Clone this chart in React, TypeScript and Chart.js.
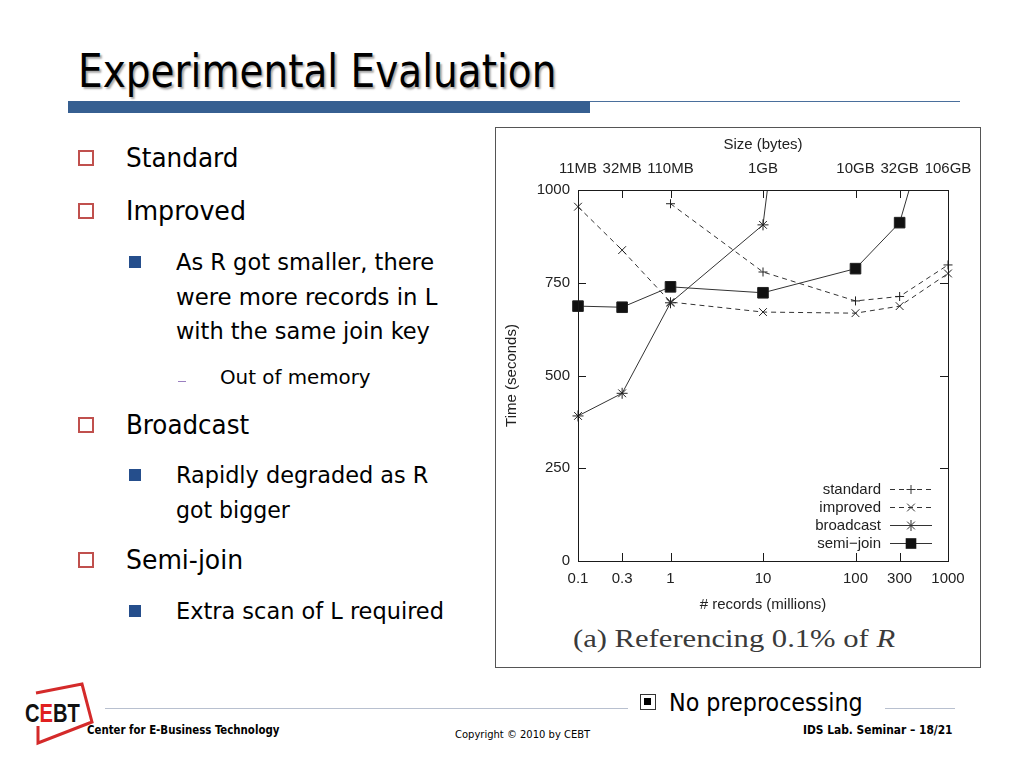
import React, { useEffect, useLayoutEffect, useRef, useState } from "react";
import { Chart, registerables } from "chart.js";

Chart.register(...registerables);

// ---------- data ----------
const recordCounts = [0.1, 0.3, 1, 10, 100, 300, 1000];
const recordTickLabels = ["0.1", "0.3", "1", "10", "100", "300", "1000"];
const sizeTickLabels = ["11MB", "32MB", "110MB", "1GB", "10GB", "32GB", "106GB"];
const timeTicks = [0, 250, 500, 750, 1000];
const standardTimes = [null, null, 963, 779, 701, 713, 798];
const improvedTimes = [955, 838, 698, 671, 668, 687, 775];
const broadcastTimes = [391, 452, 696, 906, 2900, null, null];
const semiJoinTimes = [687, 684, 739, 723, 788, 912, 1360];
const seriesNames = ["standard", "improved", "broadcast", "semi\u2212join"];

const CH_FONT = "'Liberation Sans', Arial, Helvetica, sans-serif";
const CH_SIZE = 15;
const SLIDE_FONT = "'DejaVu Sans Condensed', 'DejaVu Sans', sans-serif";
const INK = "#1a1a1a";

function drawMarker(ctx: CanvasRenderingContext2D, style: string, x: number, y: number, r: number) {
  ctx.beginPath();
  if (style === "cross" || style === "star") {
    ctx.moveTo(x - r, y);
    ctx.lineTo(x + r, y);
    ctx.moveTo(x, y - r);
    ctx.lineTo(x, y + r);
  }
  if (style === "crossRot" || style === "star") {
    const d = r * Math.SQRT1_2;
    ctx.moveTo(x - d, y - d);
    ctx.lineTo(x + d, y + d);
    ctx.moveTo(x - d, y + d);
    ctx.lineTo(x + d, y - d);
  }
  ctx.stroke();
  if (style === "rect") {
    const s = r * Math.SQRT1_2;
    ctx.fillRect(x - s, y - s, 2 * s, 2 * s);
  }
}

const frameAndLegend = {
  id: "frameAndLegend",
  afterDatasetsDraw(chart: any) {
    const { ctx, chartArea, scales } = chart;
    const { left, right, top, bottom } = chartArea;
    ctx.save();
    ctx.strokeStyle = INK;
    ctx.fillStyle = INK;
    ctx.lineWidth = 1;
    ctx.setLineDash([]);
    // frame
    ctx.strokeRect(Math.round(left) + 0.5, Math.round(top) + 0.5, Math.round(right - left), Math.round(bottom - top));
    // inward ticks
    const tl = 8;
    ctx.beginPath();
    recordCounts.forEach((v) => {
      const px = Math.round(scales.x.getPixelForValue(v)) + 0.5;
      if (px > left + 2 && px < right - 2) {
        ctx.moveTo(px, bottom);
        ctx.lineTo(px, bottom - tl);
        ctx.moveTo(px, top);
        ctx.lineTo(px, top + tl);
      }
    });
    timeTicks.forEach((v) => {
      const py = Math.round(scales.y.getPixelForValue(v)) + 0.5;
      if (py > top + 2 && py < bottom - 2) {
        ctx.moveTo(left, py);
        ctx.lineTo(left + tl, py);
        ctx.moveTo(right, py);
        ctx.lineTo(right - tl, py);
      }
    });
    ctx.stroke();

    // gnuplot-like legend inside, bottom right
    ctx.font = `${CH_SIZE}px ${CH_FONT}`;
    ctx.textAlign = "right";
    ctx.textBaseline = "middle";
    chart.data.datasets.forEach((ds: any, i: number) => {
      const y = Math.round(bottom - 72 + i * 18) + 0.5;
      ctx.fillStyle = "#222";
      ctx.fillText(ds.label, right - 67, y);
      ctx.strokeStyle = ds.borderColor;
      ctx.fillStyle = "#111";
      ctx.lineWidth = 1;
      ctx.setLineDash(ds.borderDash || []);
      ctx.beginPath();
      ctx.moveTo(right - 58, y);
      ctx.lineTo(right - 16, y);
      ctx.stroke();
      ctx.setLineDash([]);
      drawMarker(ctx, ds.pointStyle, right - 37, y, ds.pointRadius);
    });
    ctx.restore();
  },
};

function GnuplotChart() {
  const canvasRef = useRef<HTMLCanvasElement>(null);
  useEffect(() => {
    if (!canvasRef.current) return;
    const toPoints = (vals: (number | null)[]) =>
      recordCounts.map((x, i) => ({ x, y: vals[i] }));
    const common = {
      borderColor: "#333",
      backgroundColor: "#333",
      borderWidth: 1,
      pointBorderColor: "#222",
      pointBackgroundColor: "#111",
      pointBorderWidth: 1,
      tension: 0,
      spanGaps: false,
      xAxisID: "x",
      yAxisID: "y",
      clip: { left: 10, right: 10, top: 0, bottom: 0 },
    };
    const tickFont = { family: CH_FONT, size: CH_SIZE };
    const chart = new Chart(canvasRef.current, {
      type: "line",
      data: {
        datasets: [
          { ...common, label: seriesNames[0], data: toPoints(standardTimes), borderDash: [5, 4], pointStyle: "cross", pointRadius: 4.5 },
          { ...common, label: seriesNames[1], data: toPoints(improvedTimes), borderDash: [5, 4], pointStyle: "crossRot", pointRadius: 5.5 },
          { ...common, label: seriesNames[2], data: toPoints(broadcastTimes), pointStyle: "star", pointRadius: 5.5 },
          { ...common, label: seriesNames[3], data: toPoints(semiJoinTimes), pointStyle: "rect", pointRadius: 7.5 },
        ] as any,
      },
      options: {
        animation: false,
        responsive: true,
        maintainAspectRatio: false,
        layout: { padding: { left: 0, right: 32, top: 0, bottom: 0 } },
        plugins: { legend: { display: false }, tooltip: { enabled: false } },
        elements: { point: { hoverRadius: 0 } },
        scales: {
          x: {
            type: "logarithmic",
            position: "bottom",
            min: 0.1,
            max: 1000,
            afterBuildTicks: (s: any) => {
              s.ticks = recordCounts.map((v) => ({ value: v }));
            },
            afterFit: (s: any) => {
              s.height = 57;
            },
            grid: { display: false, drawTicks: true, tickLength: 7 },
            border: { display: false },
            ticks: {
              autoSkip: false,
              maxRotation: 0,
              padding: 2,
              color: "#222",
              font: tickFont,
              callback: (_v: any, i: number) => recordTickLabels[i],
            },
            title: {
              display: true,
              text: "# records (millions)",
              color: "#222",
              font: tickFont,
              padding: { top: 0, bottom: 4 },
            },
          },
          x2: {
            type: "logarithmic",
            position: "top",
            min: 0.1,
            max: 1000,
            afterBuildTicks: (s: any) => {
              s.ticks = recordCounts.map((v) => ({ value: v }));
            },
            afterFit: (s: any) => {
              s.height = 62;
            },
            grid: { display: false, drawTicks: true, tickLength: 10 },
            border: { display: false },
            ticks: {
              autoSkip: false,
              maxRotation: 0,
              padding: 2,
              color: "#222",
              font: tickFont,
              callback: (_v: any, i: number) => sizeTickLabels[i],
            },
            title: {
              display: true,
              text: "Size (bytes)",
              color: "#222",
              font: tickFont,
              padding: { top: 8, bottom: 0 },
            },
          },
          y: {
            type: "linear",
            min: 0,
            max: 1000,
            afterBuildTicks: (s: any) => {
              s.ticks = timeTicks.map((v) => ({ value: v }));
            },
            afterFit: (s: any) => {
              s.width = 82;
            },
            grid: { display: false, drawTicks: false },
            border: { display: false },
            ticks: {
              padding: 8,
              color: "#222",
              font: tickFont,
              callback: (v: any) => String(v),
            },
            title: {
              display: true,
              text: "Time (seconds)",
              color: "#222",
              font: tickFont,
              padding: { top: 7, bottom: 0 },
            },
          },
        },
      } as any,
      plugins: [frameAndLegend],
    });
    return () => chart.destroy();
  }, []);
  return (
    <div style={{ position: "absolute", left: 496, top: 128, width: 484, height: 490 }}>
      <canvas ref={canvasRef} />
    </div>
  );
}

type TxtProps = {
  x: number;
  cy: number;
  w: number;
  size: number;
  weight?: number | string;
  family?: string;
  color?: string;
  shadow?: string;
  children: React.ReactNode;
};

function Txt({ x, cy, w, size, weight = 400, family = SLIDE_FONT, color = "#000", shadow, children }: TxtProps) {
  const ref = useRef<HTMLSpanElement>(null);
  const [sc, setSc] = useState(1);
  useLayoutEffect(() => {
    const el = ref.current;
    if (el && el.offsetWidth > 0) setSc(w / el.offsetWidth);
  }, [w]);
  return (
    <span
      ref={ref}
      style={{
        position: "absolute",
        left: x,
        top: cy - size / 2,
        fontSize: size,
        lineHeight: `${size}px`,
        fontFamily: family,
        fontWeight: weight as any,
        color,
        whiteSpace: "nowrap",
        transformOrigin: "0 50%",
        transform: `scaleX(${sc})`,
        textShadow: shadow,
      }}
    >
      {children}
    </span>
  );
}

function RedBox({ cy }: { cy: number }) {
  return (
    <div
      style={{
        position: "absolute",
        left: 78,
        top: cy - 8,
        width: 16,
        height: 16,
        boxSizing: "border-box",
        border: "2px solid #c0504d",
      }}
    />
  );
}

function BlueBox({ cy }: { cy: number }) {
  return (
    <div style={{ position: "absolute", left: 129, top: cy - 6, width: 12, height: 12, background: "#254e8c" }} />
  );
}

export default function App() {
  return (
    <div
      style={{
        position: "absolute",
        left: 0,
        top: 0,
        width: 1024,
        height: 768,
        background: "#fff",
        overflow: "hidden",
        fontFamily: SLIDE_FONT,
      }}
    >
      {/* title */}
      <Txt x={78} cy={71} w={478} size={46} shadow="2px 2px 2px rgba(0,0,0,0.35)">
        Experimental Evaluation
      </Txt>
      <div style={{ position: "absolute", left: 68, top: 101, width: 522, height: 12, background: "#365f91" }} />
      <div style={{ position: "absolute", left: 590, top: 101, width: 370, height: 1, background: "#4a6f9c" }} />

      {/* bullets */}
      <RedBox cy={158} />
      <Txt x={126} cy={158} w={112} size={26}>Standard</Txt>
      <RedBox cy={211} />
      <Txt x={126} cy={211} w={120} size={26}>Improved</Txt>
      <BlueBox cy={262} />
      <Txt x={176} cy={262} w={258} size={23}>As R got smaller, there</Txt>
      <Txt x={176} cy={297} w={261} size={23}>were more records in L</Txt>
      <Txt x={176} cy={331} w={254} size={23}>with the same join key</Txt>
      <div style={{ position: "absolute", left: 178, top: 381, width: 8, height: 1, background: "#9a7fc0" }} />
      <Txt x={220} cy={377} w={151} size={20}>Out of memory</Txt>
      <RedBox cy={425} />
      <Txt x={126} cy={425} w={123} size={26}>Broadcast</Txt>
      <BlueBox cy={475} />
      <Txt x={176} cy={475} w={252} size={23}>Rapidly degraded as R</Txt>
      <Txt x={176} cy={510} w={114} size={23}>got bigger</Txt>
      <RedBox cy={560} />
      <Txt x={126} cy={560} w={117} size={26}>Semi-join</Txt>
      <BlueBox cy={611} />
      <Txt x={176} cy={611} w={268} size={23}>Extra scan of L required</Txt>

      {/* chart box */}
      <div
        style={{
          position: "absolute",
          left: 495,
          top: 127,
          width: 486,
          height: 541,
          boxSizing: "border-box",
          border: "1px solid #555",
        }}
      />
      <GnuplotChart />
      <Txt x={573} cy={638} w={322} size={25} family="'Liberation Serif', 'DejaVu Serif', serif" color="#3a3a3a">
        (a) Referencing 0.1% of <i>R</i>
      </Txt>

      {/* footer */}
      <svg style={{ position: "absolute", left: 0, top: 670 }} width={120} height={80}>
        <polyline
          points="36,23 82,14 92,52 38,73 38,56"
          fill="none"
          stroke="#d42a2a"
          strokeWidth={3}
          strokeLinejoin="miter"
        />
      </svg>
      <Txt x={25} cy={713} w={55} size={26} weight={700} family="'Liberation Sans', Arial, sans-serif" color="#111">
        <span>C</span>
        <span style={{ color: "#e02020" }}>E</span>
        <span>BT</span>
      </Txt>
      <div style={{ position: "absolute", left: 105, top: 708, width: 523, height: 1, background: "#b8c0cf" }} />
      <div
        style={{
          position: "absolute",
          left: 640,
          top: 694,
          width: 16,
          height: 16,
          boxSizing: "border-box",
          border: "1.5px solid #333",
          background: "#fff",
        }}
      >
        <div style={{ position: "absolute", left: 3, top: 3, width: 7, height: 7, background: "#000" }} />
      </div>
      <Txt x={669} cy={702} w={194} size={25}>No preprocessing</Txt>
      <div style={{ position: "absolute", left: 885, top: 708, width: 70, height: 1, background: "#b8c0cf" }} />
      <Txt x={87} cy={730} w={192} size={12} weight={700}>Center for E-Business Technology</Txt>
      <Txt x={455} cy={734} w={135} size={11}>Copyright &copy; 2010 by CEBT</Txt>
      <Txt x={803} cy={730} w={150} size={12} weight={700}>IDS Lab. Seminar &ndash; 18/21</Txt>
    </div>
  );
}
